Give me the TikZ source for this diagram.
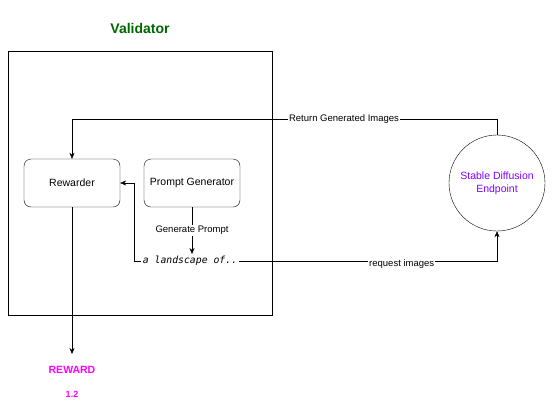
\documentclass[tikz,border=0pt]{standalone}
\usepackage{fontspec}
\setmainfont{Liberation Sans}
\setmonofont{DejaVu Sans Mono}
\usetikzlibrary{arrows.meta}
\definecolor{validgreen}{RGB}{0,102,0}
\definecolor{sdpurple}{RGB}{127,0,255}
\definecolor{rewardpink}{RGB}{255,0,255}

\begin{document}
\begin{tikzpicture}[x=1pt,y=-1pt,font=\fontsize{10}{12}\selectfont,>={Stealth[length=6pt,width=5pt]}]
    \tikzstyle{block}=[draw,rounded corners=7pt,minimum width=96pt,minimum height=48pt,inner sep=0,font=\fontsize{10.5}{12}\selectfont]
    \tikzstyle{endpoint}=[draw,circle,minimum size=96pt,inner sep=0,align=center,text=sdpurple,font=\fontsize{10.5}{13}\selectfont]
    \tikzstyle{tag}=[fill=white,inner sep=1pt,font=\fontsize{9.5}{11}\selectfont]

    \useasboundingbox (0,0) rectangle (553,408);

    \node(title)[font=\fontsize{14}{16}\selectfont\bfseries,text=validgreen] at (140,28) {Validator};
    \node(frame)[draw,minimum width=264pt,minimum height=264pt,inner sep=0] at (140,183) {};

    \node(rewarder)[block] at (72,183) {Rewarder};
    \node(generator)[block] at (192,183) {Prompt Generator};
    \node(prompt)[inner sep=2pt,font=\fontsize{9.8}{11}\selectfont\ttfamily\itshape] at (190,261) {a landscape of..};
    \node(sd)[endpoint] at (497,183) {Stable Diffusion\\Endpoint};
    \node(reward)[text=rewardpink,font=\fontsize{10.5}{12}\selectfont\bfseries] at (72,370) {REWARD};
    \node(value)[text=rewardpink,font=\fontsize{9}{11}\selectfont\bfseries] at (72,394) {1.2};

    \coordinate(rewardtip) at (72,354);

    \draw[->] (generator.south) -- node[tag]{Generate Prompt} (prompt.north -| generator.south);
    \draw[->] (prompt.west) -- ++(-6,0) |- (rewarder.east);
    \draw[->] (prompt.east) -- (sd.south |- prompt.east) node[tag,pos=0.63,yshift=-3.5pt]{request images} -- (sd.south);
    \draw[->] (sd.north) -- ++(0,-16) -| node[tag,pos=0.18]{Return Generated Images} (rewarder.north);
    \draw[->] (rewarder.south) -- (rewardtip);
\end{tikzpicture}
\end{document}
